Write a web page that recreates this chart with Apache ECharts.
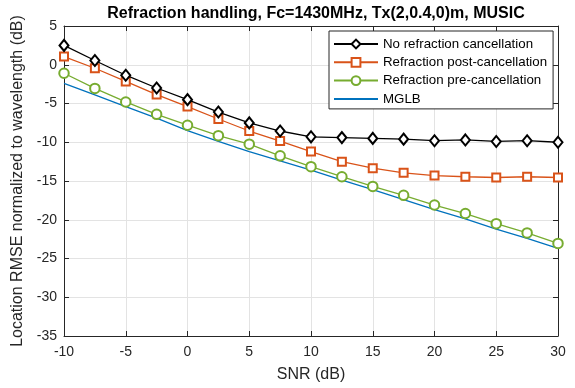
<!DOCTYPE html>
<html>
<head>
<meta charset="utf-8">
<script src="https://cdn.jsdelivr.net/npm/echarts@6/dist/echarts.min.js"></script>
<style>
html,body{margin:0;padding:0;background:#fff;}
#chart{width:575px;height:388px;}
</style>
</head>
<body>
<div id="chart"></div>
<script>
const snr = [-10, -7.5, -5, -2.5, 0, 2.5, 5, 7.5, 10, 12.5, 15, 17.5, 20, 22.5, 25, 27.5, 30];
const noCancel = [2.5, 0.55, -1.35, -3.0, -4.5, -6.1, -7.5, -8.55, -9.3, -9.4, -9.5, -9.6, -9.8, -9.7, -9.9, -9.8, -10.0];
const postCancel = [1.05, -0.45, -2.15, -3.85, -5.4, -7.0, -8.55, -9.85, -11.2, -12.5, -13.35, -13.95, -14.3, -14.45, -14.55, -14.45, -14.55];
const preCancel = [-1.1, -3.05, -4.8, -6.4, -7.8, -9.15, -10.25, -11.75, -13.15, -14.45, -15.7, -16.85, -18.1, -19.2, -20.5, -21.7, -23.05];
const mglb = [-2.4, -3.9, -5.4, -6.9, -8.5, -9.9, -11.2, -12.4, -13.6, -14.9, -16.1, -17.4, -18.7, -19.9, -21.2, -22.4, -23.7];
const seriesNames = ['No refraction cancellation', 'Refraction post-cancellation', 'Refraction pre-cancellation', 'MGLB'];
const titleText = 'Refraction handling, Fc=1430MHz, Tx(2,0.4,0)m, MUSIC';
const xName = 'SNR (dB)';
const yName = 'Location RMSE normalized to wavelength (dB)';

const pairs = arr => snr.map((x, i) => [x, arr[i]]);
const FONT = 'Liberation Sans, Arial, sans-serif';
const chart = echarts.init(document.getElementById('chart'), null, {renderer: 'canvas'});

const axisLineCommon = {show: true, onZero: false, lineStyle: {color: '#262626', width: 1}};
const axisTickCommon = {show: true, inside: true, length: 5, lineStyle: {color: '#262626'}};

chart.setOption({
  animation: false,
  backgroundColor: '#fff',
  title: {
    text: titleText,
    left: 311, textAlign: 'center', top: 1,
    textStyle: {fontFamily: FONT, fontSize: 16, fontWeight: 'bold', color: '#000'}
  },
  grid: {left: 64, top: 26, width: 494, height: 316, containLabel: false},
  legend: {
    orient: 'vertical',
    left: 329, top: 31,
    backgroundColor: '#fff',
    borderColor: '#262626', borderWidth: 1, borderRadius: 0,
    padding: [6, 6, 3, 4],
    itemWidth: 44, itemHeight: 11, itemGap: 4.3,
    textStyle: {fontFamily: FONT, fontSize: 13.3, lineHeight: 14, color: '#000'},
    data: [
      {name: seriesNames[0]},
      {name: seriesNames[1]},
      {name: seriesNames[2]},
      {name: seriesNames[3], itemStyle: {opacity: 0}}
    ]
  },
  xAxis: [{
    type: 'value', min: -10, max: 30, interval: 5,
    name: xName, nameLocation: 'middle', nameGap: 31,
    nameTextStyle: {fontFamily: FONT, fontSize: 16, color: '#262626'},
    axisLine: axisLineCommon, axisTick: axisTickCommon,
    axisLabel: {fontFamily: FONT, fontSize: 14, color: '#262626', margin: 9},
    splitLine: {show: true, lineStyle: {color: '#e3e3e3', width: 1}}
  }, {
    type: 'value', min: -10, max: 30, interval: 5, position: 'top',
    axisLine: axisLineCommon, axisTick: axisTickCommon,
    axisLabel: {show: false}, splitLine: {show: false}
  }],
  yAxis: [{
    type: 'value', min: -35, max: 5, interval: 5,
    name: yName, nameLocation: 'middle', nameGap: 26,
    nameTextStyle: {fontFamily: FONT, fontSize: 16, color: '#262626'},
    axisLine: axisLineCommon, axisTick: axisTickCommon,
    axisLabel: {fontFamily: FONT, fontSize: 14, color: '#262626', margin: 7},
    splitLine: {show: true, lineStyle: {color: '#e3e3e3', width: 1}}
  }, {
    type: 'value', min: -35, max: 5, interval: 5, position: 'right',
    axisLine: axisLineCommon, axisTick: axisTickCommon,
    axisLabel: {show: false}, splitLine: {show: false}
  }],
  series: [
    {
      name: seriesNames[0], type: 'line', data: pairs(noCancel),
      symbol: 'emptyDiamond', symbolSize: [9, 11],
      lineStyle: {color: '#000000', width: 1.3},
      itemStyle: {color: '#000000', borderColor: '#000000', borderWidth: 1.3},
      z: 4
    },
    {
      name: seriesNames[1], type: 'line', data: pairs(postCancel),
      symbol: 'emptyRect', symbolSize: 8,
      lineStyle: {color: '#D95319', width: 1.3},
      itemStyle: {color: '#D95319', borderColor: '#D95319', borderWidth: 1.3},
      z: 3
    },
    {
      name: seriesNames[2], type: 'line', data: pairs(preCancel),
      symbol: 'emptyCircle', symbolSize: 9.5,
      lineStyle: {color: '#77AC30', width: 1.3},
      itemStyle: {color: '#77AC30', borderColor: '#77AC30', borderWidth: 1.3},
      z: 2
    },
    {
      name: seriesNames[3], type: 'line', data: pairs(mglb),
      symbol: 'none',
      lineStyle: {color: '#0072BD', width: 1.3},
      itemStyle: {color: '#0072BD'},
      z: 1
    }
  ]
});
</script>
</body>
</html>
